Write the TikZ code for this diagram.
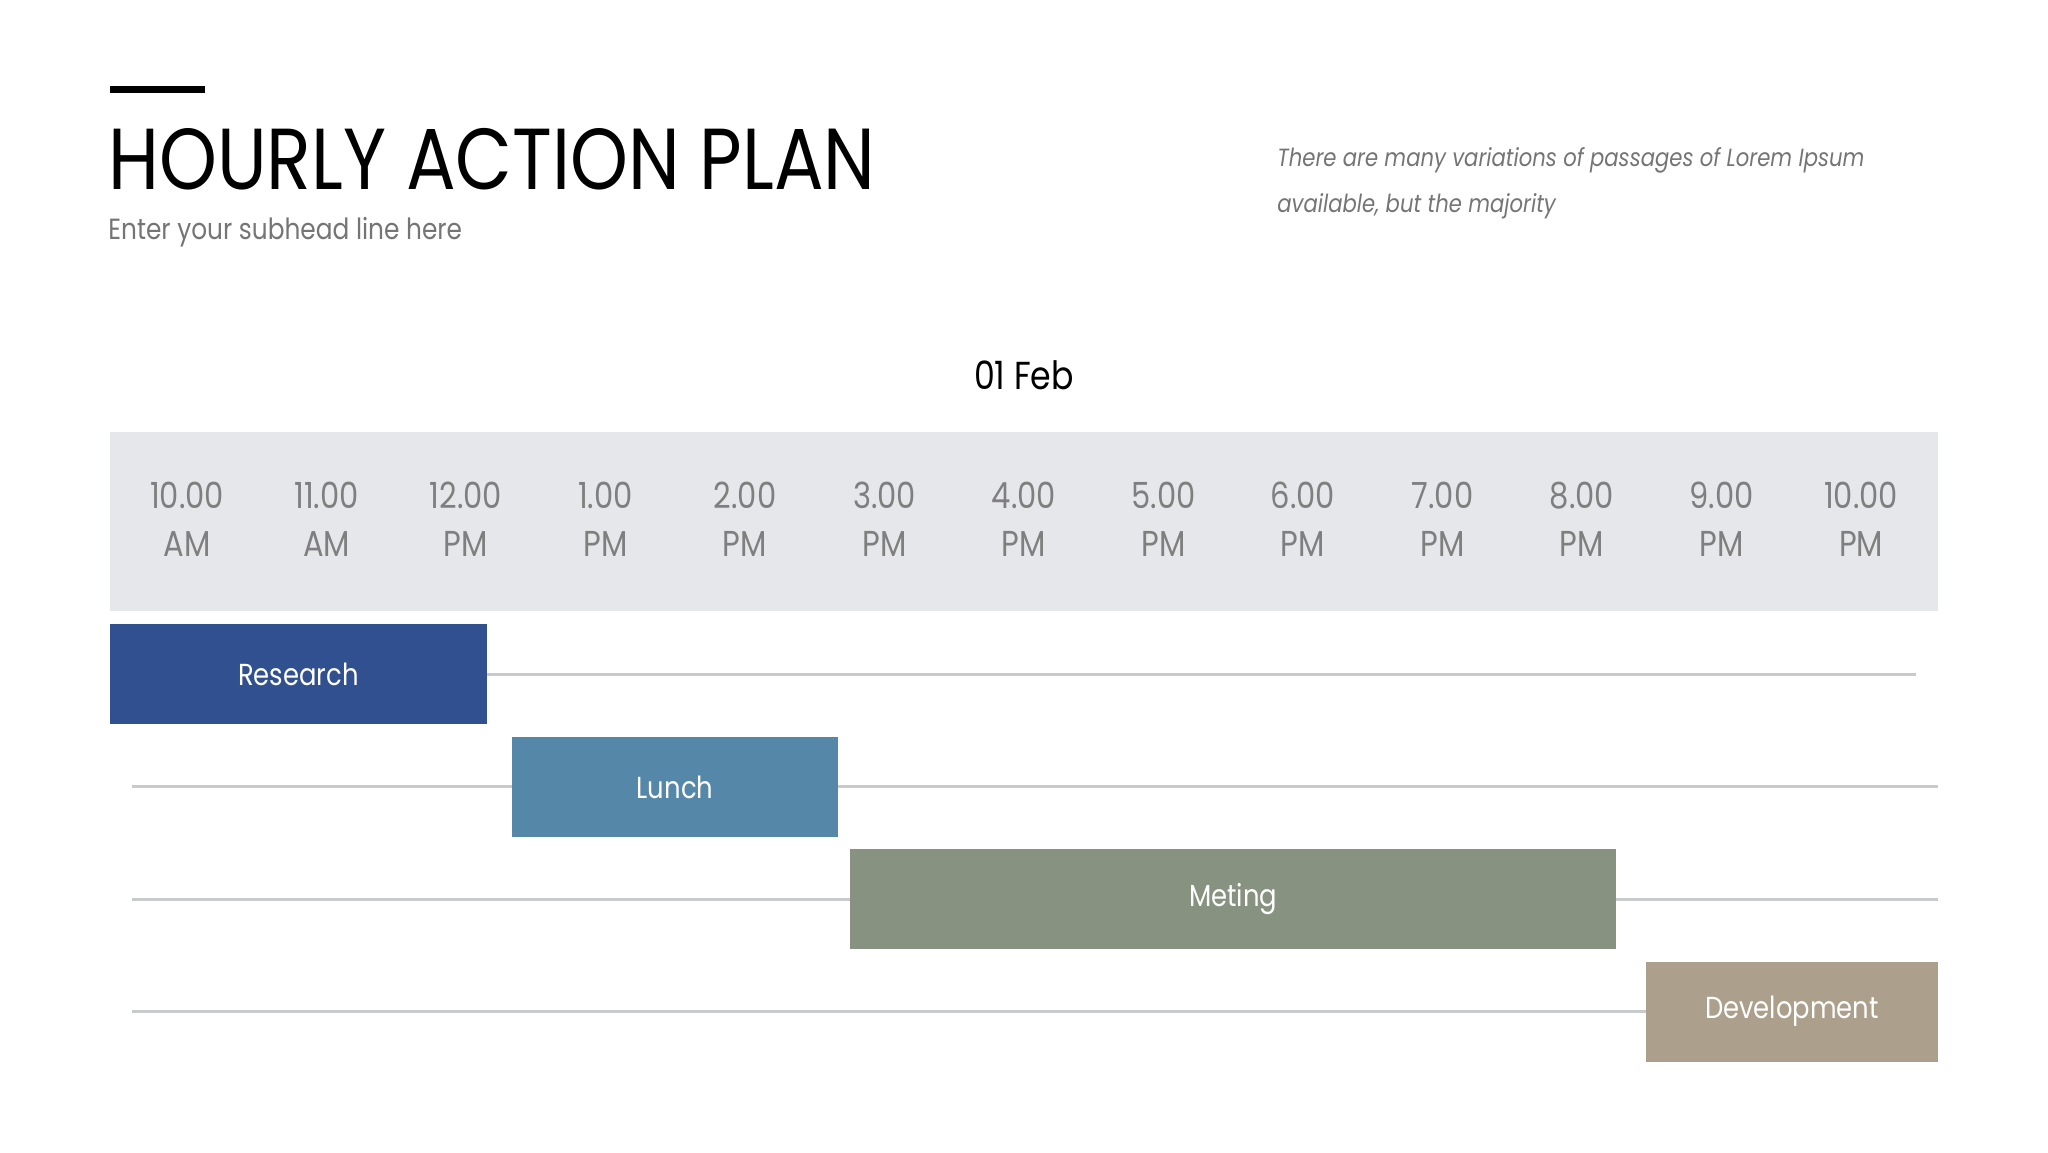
\documentclass[tikz,border=0pt]{standalone}
\usepackage{fontspec}
\setmainfont{Poppins}
\newfontfamily\nf{Poppins}[FakeStretch=0.85]
\definecolor{bandgray}{HTML}{E6E7EA}
\definecolor{linegray}{HTML}{C9CACD}
\definecolor{txtgray}{HTML}{7F7F7F}
\definecolor{subgray}{HTML}{757575}
\definecolor{c1}{HTML}{31508F}
\definecolor{c2}{HTML}{5588A8}
\definecolor{c3}{HTML}{879380}
\definecolor{c4}{HTML}{AC9F8C}
\tikzset{
  taskbox/.style={rectangle, inner sep=0pt, minimum height=50pt, text=white, font=\nf\fontsize{15.2}{18}\selectfont},
  rowline/.style={draw=linegray, line width=1.5pt},
  hour/.style={anchor=base, inner sep=0pt, text=txtgray, font=\nf\fontsize{18}{20}\selectfont}
}
\begin{document}
\begin{tikzpicture}[x=0.5pt, y=-0.5pt]
\useasboundingbox[fill=white] (0,0) rectangle (2048,1152);
% top accent bar
\fill[black] (110,86) rectangle (205,93);
\node[anchor=base west, inner sep=0pt, font=\nf\fontsize{43.3}{46}\selectfont] (title) at (108,189) {HOURLY ACTION PLAN};
\node[anchor=base west, inner sep=0pt, text=subgray, font=\nf\fontsize{14.6}{18}\selectfont] (sub) at (108,239) {Enter your subhead line here};
\node[anchor=base west, inner sep=0pt, text=subgray, font=\nf\itshape\fontsize{12.45}{23}\selectfont, align=left] (desc) at (1277,212) {There are many variations of passages of Lorem Ipsum\\available, but the majority};
\node[anchor=base, inner sep=0pt, font=\nf\fontsize{19.5}{22}\selectfont] (date) at (1024,389) {01 Feb};
% header band
\node[rectangle, fill=bandgray, inner sep=0pt, minimum width=914pt, minimum height=89.5pt, anchor=north west] (band) at (110,432) {};
\foreach \t/\p [count=\i from 0] in {10.00/AM,11.00/AM,12.00/PM,1.00/PM,2.00/PM,3.00/PM,4.00/PM,5.00/PM,6.00/PM,7.00/PM,8.00/PM,9.00/PM,10.00/PM}{
  \node[hour] (h\i) at ({187+139.5*\i},508) {\t};
  \node[hour] (m\i) at ({187+139.5*\i},556) {\p};
}
% rows lines
\coordinate (r1b) at (1916,674);
\coordinate (r2a) at (132,786);
\coordinate (r2b) at (1938,786);
\coordinate (r3a) at (132,899);
\coordinate (r3b) at (1938,899);
\coordinate (r4a) at (132,1011);
\coordinate (r4b) at (1646,1011);
\draw[rowline] (r2a) -- (r2b);
\draw[rowline] (r3a) -- (r3b);
\draw[rowline] (r4a) -- (r4b);
% tasks
\node[taskbox, fill=c1, minimum width=188.5pt] (research) at (298.5,674) {Research};
\node[taskbox, fill=c2, minimum width=163pt] (lunch) at (675,787) {Lunch};
\node[taskbox, fill=c3, minimum width=383pt] (meting) at (1233,899) {Meting};
\node[taskbox, fill=c4, minimum width=146pt] (dev) at (1792,1011.5) {Development};
\draw[rowline] (research.east) -- (r1b);
\end{tikzpicture}
\end{document}
